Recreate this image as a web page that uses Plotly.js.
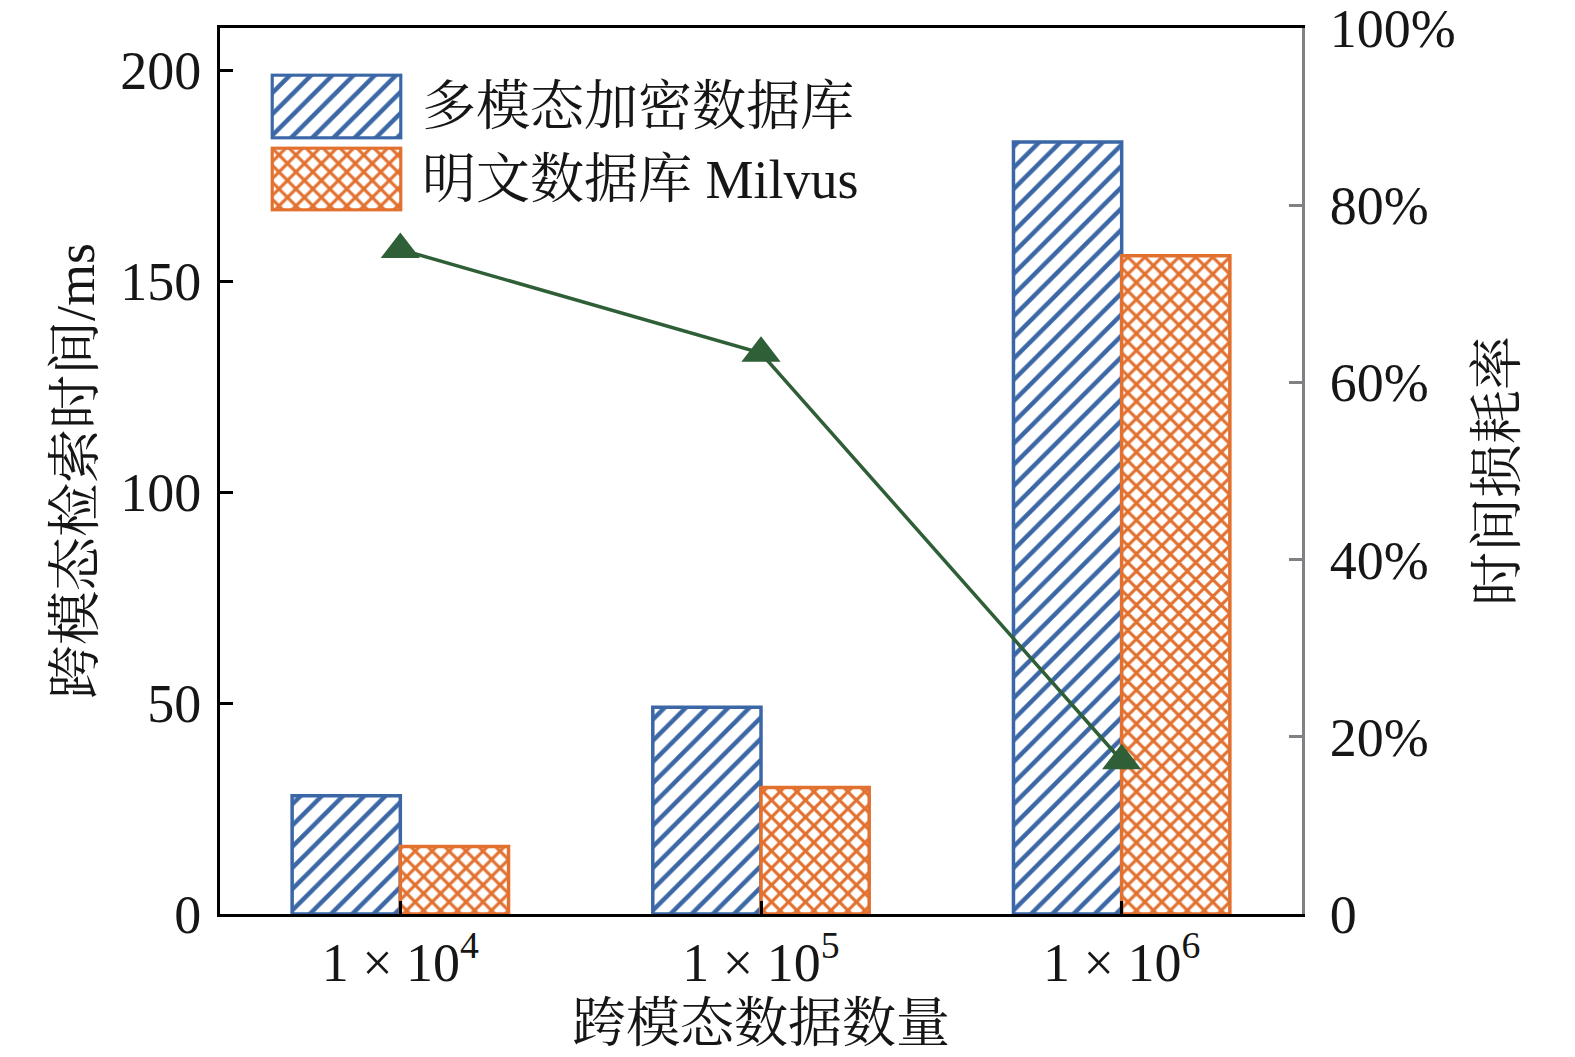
<!DOCTYPE html>
<html><head><meta charset="utf-8">
<script src="https://cdn.plot.ly/plotly-3.0.1.min.js"></script>
<style>html,body{margin:0;padding:0;background:#fff}</style>
</head><body><div id="chart" style="width:1575px;height:1057px"></div>
<script>
// ---- data ----
const categories = ['1e4', '1e5', '1e6'];
const tickLabels = ['1 × 10<sup>4</sup>', '1 × 10<sup>5</sup>', '1 × 10<sup>6</sup>'];
const seriesNames = ['多模态加密数据库', '明文数据库 Milvus', '时间损耗率'];
const encryptedMs = [28, 49, 183];
const plainMs = [16, 30, 156];
const lossRate = [75, 63.3, 17.3];
const leftTicks = [0, 50, 100, 150, 200];
const rightTicks = [0, 20, 40, 60, 80, 100];
const rightTickLabels = ['0', '20%', '40%', '60%', '80%', '100%'];
const titles = { x: '跨模态数据数量', y: '跨模态检索时间/ms', y2: '时间损耗率' };

// ---- styles ----
const FONT = "'Liberation Serif', 'Times New Roman', 'Noto Serif CJK SC', 'Noto Sans CJK SC', serif";
const BLUE = '#3B67A6', ORANGE = '#E2702F', GREEN = '#2E5F36', GREY = '#808087', INK = '#161616';
const FS = 54;

const bluePattern = { shape: '/', size: 15, solidity: 0.3, fgcolor: BLUE, bgcolor: '#fff', fillmode: 'replace' };
const orangePattern = { shape: 'x', size: 12, solidity: 0.45, fgcolor: ORANGE, bgcolor: '#fff', fillmode: 'replace' };

const traces = [
  { type: 'bar', name: seriesNames[0], x: categories, y: encryptedMs, xaxis: 'x', yaxis: 'y',
    marker: { color: '#fff', pattern: bluePattern, line: { color: BLUE, width: 3.5 } }, showlegend: false },
  { type: 'bar', name: seriesNames[1], x: categories, y: plainMs, xaxis: 'x', yaxis: 'y',
    marker: { color: '#fff', pattern: orangePattern, line: { color: ORANGE, width: 3.5 } }, showlegend: false },
  { type: 'scatter', mode: 'lines+markers', name: seriesNames[2], x: categories, y: lossRate, xaxis: 'x', yaxis: 'y2',
    line: { color: GREEN, width: 3.5 }, marker: { symbol: 'triangle-up', size: 34, color: GREEN }, showlegend: false, cliponaxis: false },
  // legend swatches (decoration)
  { type: 'bar', x: [seriesNames[0]], y: [1], width: [1], xaxis: 'x3', yaxis: 'y3', hoverinfo: 'skip',
    marker: { color: '#fff', pattern: bluePattern, line: { color: BLUE, width: 3.5 } }, showlegend: false },
  { type: 'bar', x: [seriesNames[1]], y: [1], width: [1], xaxis: 'x4', yaxis: 'y4', hoverinfo: 'skip',
    marker: { color: '#fff', pattern: orangePattern, line: { color: ORANGE, width: 3.5 } }, showlegend: false }
];

const plotL = 220, plotR = 1302, plotT = 28, plotB = 914;
const W = 1575, H = 1057;
const px = v => (v - plotL) / (plotR - plotL);
const py = v => (plotB - v) / (plotB - plotT);

const hiddenAxis = { visible: false, fixedrange: true };

const layout = {
  width: W, height: H, autosize: false,
  margin: { l: plotL, r: W - plotR, t: plotT, b: H - plotB, pad: 0 },
  paper_bgcolor: '#fff', plot_bgcolor: 'rgba(0,0,0,0)',
  font: { family: FONT, size: FS, color: INK },
  barmode: 'group', bargap: 0.4, bargroupgap: 0,
  showlegend: false,
  xaxis: {
    type: 'category', range: [-0.5, 2.5], tickmode: 'array', tickvals: categories, ticktext: tickLabels,
    showline: true, linecolor: '#000', linewidth: 3, mirror: true,
    ticks: 'inside', ticklen: 13, tickwidth: 3, tickcolor: '#000',
    showgrid: false, zeroline: false, ticklabelstandoff: -1, ticklabeloverflow: 'allow',
    tickfont: { family: FONT, size: FS, color: INK },
    title: { text: titles.x, font: { family: FONT, size: FS, color: INK }, standoff: 13 }
  },
  yaxis: {
    range: [0, 210], tickmode: 'array', tickvals: leftTicks,
    showline: true, linecolor: '#000', linewidth: 3,
    ticks: 'inside', ticklen: 13, tickwidth: 3, tickcolor: '#000',
    showgrid: false, zeroline: false, ticklabelstandoff: 5, ticklabeloverflow: 'allow',
    tickfont: { family: FONT, size: FS, color: INK },
    title: { text: titles.y, font: { family: FONT, size: FS, color: INK }, standoff: 9 }
  },
  yaxis2: {
    overlaying: 'y', side: 'right', range: [0, 100], tickmode: 'array', tickvals: rightTicks, ticktext: rightTickLabels,
    showline: true, linecolor: GREY, linewidth: 3,
    ticks: 'inside', ticklen: 13, tickwidth: 3, tickcolor: GREY,
    showgrid: false, zeroline: false, ticklabelstandoff: 14, ticklabeloverflow: 'allow',
    tickfont: { family: FONT, size: FS, color: INK },
    title: { text: titles.y2, font: { family: FONT, size: FS, color: INK }, standoff: 24 }
  },
  xaxis3: Object.assign({ domain: [px(270.5), px(402.5)], anchor: 'y3', range: [-0.512, 0.512] }, hiddenAxis),
  yaxis3: Object.assign({ domain: [py(139.5), py(73.5)], anchor: 'x3', range: [-0.024, 1.024] }, hiddenAxis),
  xaxis4: Object.assign({ domain: [px(270.5), px(402.5)], anchor: 'y4', range: [-0.512, 0.512] }, hiddenAxis),
  yaxis4: Object.assign({ domain: [py(211.5), py(146.5)], anchor: 'x4', range: [-0.024, 1.024] }, hiddenAxis),
  annotations: [
    { xref: 'paper', yref: 'paper', x: px(420), y: py(107), xanchor: 'left', yanchor: 'middle', showarrow: false,
      text: seriesNames[0], font: { family: FONT, size: FS, color: INK } },
    { xref: 'paper', yref: 'paper', x: px(420), y: py(180), xanchor: 'left', yanchor: 'middle', showarrow: false,
      text: seriesNames[1], font: { family: FONT, size: FS, color: INK } }
  ]
};

Plotly.newPlot('chart', traces, layout, { staticPlot: true, displayModeBar: false });
</script></body></html>
